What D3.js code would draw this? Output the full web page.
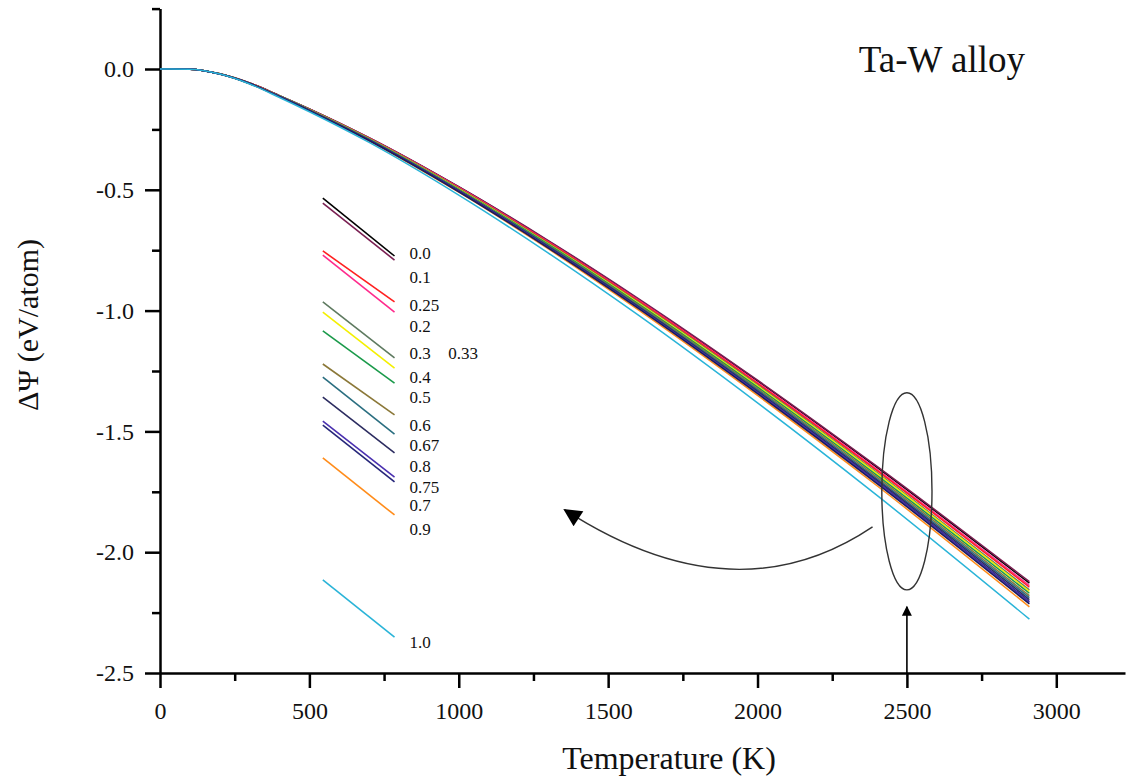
<!DOCTYPE html>
<html>
<head>
<meta charset="utf-8">
<script src="https://cdn.jsdelivr.net/npm/d3@7/dist/d3.min.js"></script>
<style>
body { margin: 0; background: #fff; }
svg text { font-family: "Liberation Serif", "Times New Roman", serif; fill: #111; }
.axis path, .axis line { stroke: #000; stroke-width: 2.5px; }
.axis text { font-size: 24px; }
.curve { fill: none; stroke-width: 1.5px; }
</style>
</head>
<body>
<svg id="chart" width="1126" height="780"></svg>
<script>
// temperatures (K) where the curves were read
const temps = [0, 100, 200, 300, 400, 500, 700, 1000, 1300, 1600, 2000, 2400, 2910];

// W fraction of each curve, and its colour
const compositions = ["0.0", "0.1", "0.2", "0.25", "0.3", "0.33", "0.4", "0.5", "0.6", "0.67", "0.7", "0.75", "0.8", "0.9", "1.0"];
const colors = ["#000000", "#7a1f52", "#ff2a8c", "#ff2020", "#5e7a60", "#f4f000", "#1a9a4a", "#8b7838", "#2a6e80", "#2c2c60", "#ff8c1a", "#26267a", "#4a30b0", "#1c1c5a", "#2ab4d8"];

// delta Psi (eV/atom) for each composition
const psi_00 = [0, -0.001, -0.020, -0.058, -0.110, -0.165, -0.285, -0.488, -0.712, -0.952, -1.291, -1.649, -2.128];
const psi_01 = [0, -0.001, -0.020, -0.058, -0.110, -0.165, -0.284, -0.487, -0.710, -0.949, -1.288, -1.645, -2.122];
const psi_02 = [0, -0.001, -0.020, -0.058, -0.111, -0.166, -0.286, -0.490, -0.716, -0.956, -1.298, -1.657, -2.138];
const psi_025 = [0, -0.001, -0.020, -0.059, -0.111, -0.167, -0.287, -0.492, -0.718, -0.959, -1.302, -1.662, -2.145];
const psi_03 = [0, -0.001, -0.020, -0.059, -0.112, -0.167, -0.288, -0.494, -0.722, -0.964, -1.308, -1.671, -2.156];
const psi_033 = [0, -0.001, -0.020, -0.059, -0.112, -0.168, -0.289, -0.496, -0.724, -0.967, -1.312, -1.675, -2.162];
const psi_04 = [0, -0.001, -0.020, -0.059, -0.112, -0.169, -0.290, -0.498, -0.726, -0.971, -1.317, -1.682, -2.170];
const psi_05 = [0, -0.001, -0.021, -0.060, -0.113, -0.169, -0.292, -0.500, -0.730, -0.975, -1.323, -1.689, -2.180];
const psi_06 = [0, -0.001, -0.021, -0.060, -0.113, -0.170, -0.293, -0.502, -0.732, -0.979, -1.328, -1.696, -2.188];
const psi_067 = [0, -0.001, -0.021, -0.060, -0.114, -0.171, -0.294, -0.504, -0.735, -0.982, -1.333, -1.702, -2.196];
const psi_07 = [0, -0.001, -0.021, -0.061, -0.115, -0.173, -0.298, -0.510, -0.745, -0.996, -1.351, -1.725, -2.226];
const psi_075 = [0, -0.001, -0.021, -0.060, -0.114, -0.171, -0.295, -0.505, -0.738, -0.986, -1.338, -1.708, -2.204];
const psi_08 = [0, -0.001, -0.021, -0.060, -0.114, -0.172, -0.295, -0.506, -0.739, -0.988, -1.340, -1.711, -2.208];
const psi_09 = [0, -0.001, -0.021, -0.060, -0.115, -0.172, -0.296, -0.508, -0.741, -0.990, -1.344, -1.716, -2.214];
const psi_10 = [0, -0.001, -0.021, -0.062, -0.118, -0.177, -0.304, -0.522, -0.762, -1.018, -1.382, -1.765, -2.277];
const seriesValues = [psi_00, psi_01, psi_02, psi_025, psi_03, psi_033, psi_04, psi_05, psi_06, psi_067, psi_07, psi_075, psi_08, psi_09, psi_10];

// ticks
const xMajor = [0, 500, 1000, 1500, 2000, 2500, 3000];
const xMinor = [250, 750, 1250, 1750, 2250, 2750];
const yMajor = [0, -0.5, -1.0, -1.5, -2.0, -2.5];
const yMinor = [0.25, -0.25, -0.75, -1.25, -1.75, -2.25];

// legend: label order and where each short sample line sits (data units)
const legendOrder = ["0.0", "0.1", "0.25", "0.2", "0.3", "0.33", "0.4", "0.5", "0.6", "0.67", "0.8", "0.75", "0.7", "0.9", "1.0"];
const legendLineV = [[-0.534, -0.774], [-0.555, -0.791], [-0.753, -0.964], [-0.770, -1.006], [-0.964, -1.196], [-1.006, -1.238], [-1.084, -1.300], [-1.221, -1.432], [-1.275, -1.511], [-1.358, -1.589], [-1.457, -1.689], [-1.474, -1.709], [-1.610, -1.846], null, [-2.115, -2.351]];
const legendLabelV = [-0.762, -0.861, -0.977, -1.064, -1.176, -1.176, -1.275, -1.358, -1.474, -1.557, -1.643, -1.730, -1.805, -1.904, -2.372];

var svg = d3.select("#chart");

var x = d3.scaleLinear().domain([0, 3230]).range([160, 1125]);
var y = d3.scaleLinear().domain([0.25, -2.5]).range([8.6, 673]);

// axes
var fmtY = function(d) { return d.toFixed(1); };

svg.append("g").attr("class", "axis")
    .attr("transform", "translate(0,673)")
    .call(d3.axisBottom(x).tickValues(xMajor).tickSize(15).tickSizeOuter(0).tickPadding(14).tickFormat(d3.format("d")));
svg.append("g").attr("class", "axis")
    .attr("transform", "translate(0,673)")
    .call(d3.axisBottom(x).tickValues(xMinor).tickSize(8).tickSizeOuter(0).tickFormat(""))
    .select(".domain").remove();

svg.append("g").attr("class", "axis")
    .attr("transform", "translate(160,0)")
    .call(d3.axisLeft(y).tickValues(yMajor).tickSize(15).tickSizeOuter(0).tickPadding(11).tickFormat(fmtY));
svg.append("g").attr("class", "axis")
    .attr("transform", "translate(160,0)")
    .call(d3.axisLeft(y).tickValues(yMinor).tickSize(8).tickSizeOuter(0).tickFormat(""))
    .select(".domain").remove();

// curves
var line = d3.line()
    .x(function(d, i) { return x(temps[i]); })
    .y(function(d) { return y(d); })
    .curve(d3.curveMonotoneX);

svg.append("g").selectAll("path")
    .data(seriesValues)
    .join("path")
    .attr("class", "curve")
    .attr("stroke", function(d, i) { return colors[i]; })
    .attr("d", line);

// legend
var lg = svg.append("g").attr("class", "legend");
legendOrder.forEach(function(key, i) {
  var c = colors[compositions.indexOf(key)];
  var lv = legendLineV[i];
  if (lv) {
    lg.append("line")
      .attr("x1", x(545)).attr("y1", y(lv[0]))
      .attr("x2", x(785)).attr("y2", y(lv[1]))
      .attr("stroke", c).attr("stroke-width", 1.6);
  }
  lg.append("text")
    .attr("x", key === "0.33" ? x(965) : x(835))
    .attr("y", y(legendLabelV[i]))
    .attr("dy", "0.35em")
    .style("font-size", "17px")
    .text(key);
});

// annotations: ellipse round the bundle, curved arrow, upward arrow
var defs = svg.append("defs");
defs.append("marker").attr("id", "head")
    .attr("viewBox", "0 0 10 10").attr("refX", 9).attr("refY", 5)
    .attr("markerWidth", 13).attr("markerHeight", 10).attr("markerUnits", "userSpaceOnUse")
    .attr("orient", "auto")
  .append("path").attr("d", "M0,0 L10,5 L0,10 z").attr("fill", "#000");
defs.append("marker").attr("id", "bighead")
    .attr("viewBox", "0 0 10 10").attr("refX", 9).attr("refY", 5)
    .attr("markerWidth", 26).attr("markerHeight", 18).attr("markerUnits", "userSpaceOnUse")
    .attr("orient", "auto")
  .append("path").attr("d", "M0,0 L10,5 L0,10 z").attr("fill", "#000");

svg.append("ellipse")
    .attr("cx", x(2500)).attr("cy", y(-1.748))
    .attr("rx", x(2584) - x(2500)).attr("ry", y(-2.156) - y(-1.748))
    .attr("fill", "none").attr("stroke", "#333").attr("stroke-width", 1.4);

var p = d3.path();
p.moveTo(x(2385), y(-1.895));
p.quadraticCurveTo(x(1923), y(-2.279), x(1355), y(-1.825));
svg.append("path").attr("d", p.toString())
    .attr("fill", "none").attr("stroke", "#333").attr("stroke-width", 1.4)
    .attr("marker-end", "url(#bighead)");

svg.append("line")
    .attr("x1", x(2500)).attr("y1", y(-2.5))
    .attr("x2", x(2500)).attr("y2", y(-2.226))
    .attr("stroke", "#000").attr("stroke-width", 1.6)
    .attr("marker-end", "url(#head)");

// titles
svg.append("text").attr("x", 1025).attr("y", 72).attr("text-anchor", "end")
    .style("font-size", "37px").text("Ta-W alloy");
svg.append("text").attr("x", 669).attr("y", 769).attr("text-anchor", "middle")
    .style("font-size", "32px").text("Temperature (K)");
svg.append("text").attr("transform", "translate(38,325) rotate(-90)").attr("text-anchor", "middle")
    .style("font-size", "30px").text("ΔΨ (eV/atom)");
</script>
</body>
</html>
